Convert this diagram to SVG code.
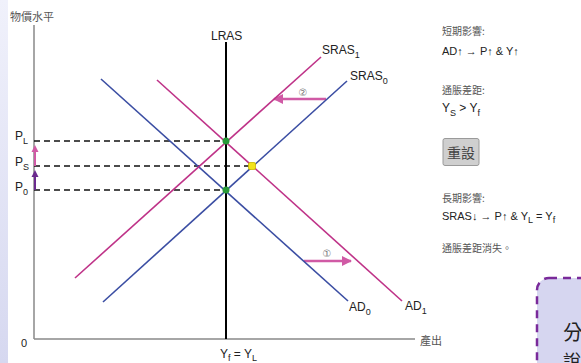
<svg xmlns="http://www.w3.org/2000/svg" width="581" height="363" viewBox="0 0 581 363">
<defs>
<linearGradient id="strip" x1="0" y1="0" x2="0" y2="1">
<stop offset="0" stop-color="#f0f1fb"/>
<stop offset="1" stop-color="#d6d8f0"/>
</linearGradient>
<marker id="mh" viewBox="0 0 10 10" refX="9" refY="5" markerWidth="4.5" markerHeight="4" orient="auto" markerUnits="strokeWidth">
<path d="M0,0 L10,5 L0,10 z" fill="#d05aa5"/>
</marker>
</defs>
<style>
.lat{font-family:"Liberation Sans",Arial,sans-serif;fill:#222}
.cjk{font-family:"Noto Sans CJK TC","Noto Sans CJK SC",sans-serif;fill:#555}
.blue{stroke:#3b4ea3;stroke-width:1.6;fill:none}
.mag{stroke:#bf3388;stroke-width:1.6;fill:none}
.dash{stroke:#111;stroke-width:1.5;stroke-dasharray:6,4;fill:none}
.shift{stroke:#d05aa5;stroke-width:2.5;fill:none;marker-end:url(#mh)}
</style>
<rect width="581" height="363" fill="#fff"/>
<rect x="0" y="0" width="8" height="363" fill="url(#strip)"/>

<g id="axes">
<line x1="34" y1="25" x2="34" y2="339" stroke="#888" stroke-width="1.5"/>
<line x1="34" y1="339" x2="415" y2="339" stroke="#888" stroke-width="1.5"/>
<text class="cjk" x="10" y="21" font-size="11">物價水平</text>
<text class="cjk" x="420" y="345" font-size="11">產出</text>
<text class="lat" x="21" y="347" font-size="11">0</text>
</g>

<g id="connectors">
<line class="dash" x1="34" y1="141" x2="226" y2="141"/>
<line class="dash" x1="34" y1="166" x2="252" y2="166"/>
<line class="dash" x1="34" y1="190" x2="226" y2="190"/>
<line class="shift" x1="326" y1="99" x2="274" y2="99"/>
<line class="shift" x1="304" y1="261" x2="351" y2="261"/>
</g>

<g id="LRAS">
<line x1="226" y1="42" x2="226" y2="339" stroke="#000" stroke-width="2"/>
<text class="lat" x="211" y="40" font-size="12">LRAS</text>
</g>
<g id="AD0">
<line class="blue" x1="101" y1="79" x2="348" y2="301"/>
<text class="lat" x="349" y="311" font-size="12">AD<tspan dy="4" font-size="9">0</tspan></text>
</g>
<g id="AD1">
<line class="mag" x1="157" y1="80" x2="402" y2="301"/>
<text class="lat" x="405" y="310" font-size="12">AD<tspan dy="4" font-size="9">1</tspan></text>
</g>
<g id="SRAS0">
<line class="blue" x1="103" y1="302" x2="347" y2="81"/>
<text class="lat" x="350" y="80" font-size="12">SRAS<tspan dy="4" font-size="9">0</tspan></text>
</g>
<g id="SRAS1">
<line class="mag" x1="75" y1="278" x2="321" y2="57"/>
<text class="lat" x="322" y="54" font-size="12">SRAS<tspan dy="4" font-size="9">1</tspan></text>
</g>

<g id="points">
<circle cx="226" cy="141" r="3.5" fill="#2a9a3a"/>
<circle cx="226" cy="190" r="3.5" fill="#2a9a3a"/>
<rect x="248.5" y="162.5" width="7" height="7" rx="1.5" fill="#f2e21c" stroke="#c8b800" stroke-width="0.8"/>
</g>

<g id="labels">
<text class="lat" x="15" y="140" font-size="12">P<tspan dy="4" font-size="9">L</tspan></text>
<text class="lat" x="15" y="166" font-size="12">P<tspan dy="4" font-size="9">S</tspan></text>
<text class="lat" x="15" y="191" font-size="12">P<tspan dy="4" font-size="9">0</tspan></text>
<text class="lat" x="220" y="358" font-size="12">Y<tspan dy="3" font-size="9">f</tspan><tspan dy="-3"> = Y</tspan><tspan dy="3" font-size="9">L</tspan></text>
<text x="303" y="96" font-size="10" fill="#777" font-family="DejaVu Sans,sans-serif" text-anchor="middle">②</text>
<text x="327" y="257" font-size="10" fill="#777" font-family="DejaVu Sans,sans-serif" text-anchor="middle">①</text>
</g>

<g id="yarrows">
<line x1="35" y1="166" x2="35" y2="150" stroke="#d05aa5" stroke-width="2"/>
<path d="M35,145 L31.5,152 L38.5,152 z" fill="#d05aa5"/>
<line x1="35" y1="190" x2="35" y2="175" stroke="#6b2a8e" stroke-width="2"/>
<path d="M35,170 L31.5,177 L38.5,177 z" fill="#6b2a8e"/>
</g>

<g id="info">
<text class="cjk" x="442" y="35" font-size="10">短期影響:</text>
<text class="lat" x="442" y="55" font-size="11">AD↑ → P↑ &amp; Y↑</text>
<text class="cjk" x="442" y="94" font-size="10">通脹差距:</text>
<text class="lat" x="442" y="112" font-size="12">Y<tspan dy="4" font-size="9">S</tspan><tspan dy="-4"> &gt; Y</tspan><tspan dy="4" font-size="9">f</tspan></text>
<text class="cjk" x="442" y="202" font-size="10">長期影響:</text>
<text class="lat" x="442" y="220" font-size="11">SRAS↓ → P↑ &amp; Y<tspan dy="3" font-size="9">L</tspan><tspan dy="-3"> = Y</tspan><tspan dy="3" font-size="9">f</tspan></text>
<text class="cjk" x="442" y="252" font-size="10">通脹差距消失。</text>
</g>

<g id="reset">
<rect x="443" y="138.5" width="36" height="27" rx="2" fill="#cfcfcf" stroke="#9a9a9a" stroke-width="1"/>
<text class="cjk" x="461" y="158" font-size="14" text-anchor="middle" style="fill:#444">重設</text>
</g>

<g id="note">
<rect x="537" y="278" width="60" height="100" rx="12" fill="#d6d6f0" stroke="#7a2a9a" stroke-width="2.5" stroke-dasharray="8,6"/>
<text class="cjk" x="563" y="340" font-size="20" style="fill:#222">分</text>
<text class="cjk" x="563" y="368" font-size="18" style="fill:#222">說</text>
</g>
</svg>
